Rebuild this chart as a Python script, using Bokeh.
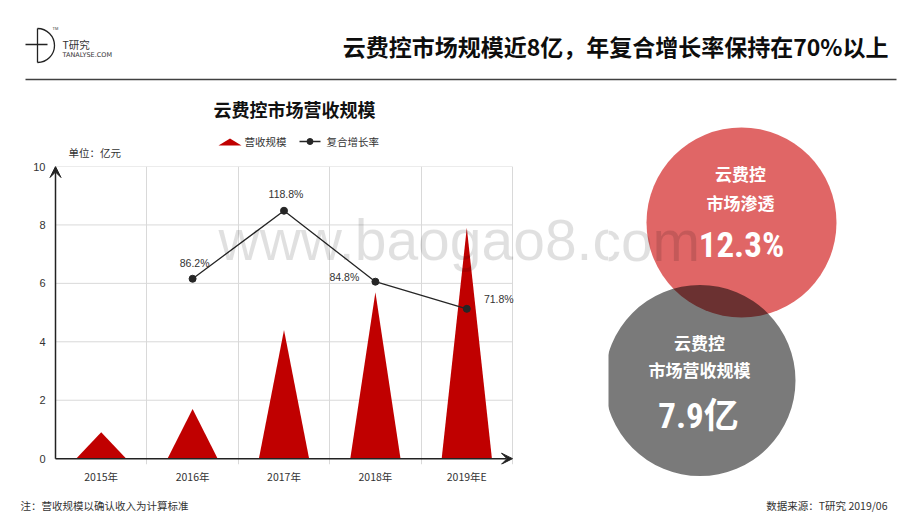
import math
from bokeh.plotting import figure
from bokeh.layouts import column, row
from bokeh.models import Range1d, FixedTicker, Arrow, VeeHead, Label
from bokeh.core.properties import value
from bokeh.embed import file_html
from bokeh.resources import INLINE

# ---------------- data ----------------
categories = ["2015年", "2016年", "2017年", "2018年", "2019年E"]
revenue = [0.9, 1.7, 4.4, 5.7, 7.9]          # 亿元
rate_years = ["2016年", "2017年", "2018年", "2019年E"]
growth_rates = [86.2, 118.8, 84.8, 71.8]     # %
y_ticks = [0, 2, 4, 6, 8, 10]
legend_labels = ["营收规模", "复合增长率"]
penetration = "12.3%"
market_size = "7.9亿"

# ---------------- styles ----------------
CJK = "Noto Sans CJK SC"
NUM = "Liberation Sans"
NARROW = "Roboto Condensed, Roboto, Noto Sans CJK SC"
RED = "#C00000"
DARK = "#262626"
TXT = "#333333"

AXIS_X = 55        # px position of the y axis
FRAME_L = 47       # chart frame left (px)
CHART_W = 608      # chart figure width
BAND = 91.4        # px per category
UNIT = 29.6        # px per 亿元


def canvas(w, h, x0=0):
    p = figure(width=w, height=h, x_range=Range1d(x0, w), y_range=Range1d(h, 0),
               output_backend="svg", toolbar_location=None,
               x_axis_type=None, y_axis_type=None, min_border=0, min_border_left=x0)
    p.outline_line_color = None
    return p


def txt(p, x, y, s, size, color=TXT, font=CJK, bold=False, align="left", alpha=1.0):
    p.text(x=[x], y=[y], text=[s], text_font=value(font), text_font_size=size,
           text_font_style="bold" if bold else "normal", text_color=color,
           text_align=align, text_baseline="middle", text_alpha=alpha)


# ---------------- header ----------------
hdr = canvas(904, 90)
hdr.line([37, 37], [28, 62], line_color="#222222", line_width=1.3)
hdr.line([25, 47], [44, 44], line_color="#222222", line_width=1.3)
hdr.arc(x=[37], y=[45], radius=17, start_angle=-math.pi / 2, end_angle=math.pi / 2,
        line_color="#222222", line_width=1.3)
txt(hdr, 52, 28, "TM", "4px", font=NUM)
txt(hdr, 62, 44, "T研究", "10.5px")
txt(hdr, 62, 54.5, "TANALYSE.COM", "6.5px", font="DejaVu Sans")
txt(hdr, 888, 45, "云费控市场规模近8亿，年复合增长率保持在70%以上", "23px",
    color="#0d0d0d", bold=True, align="right")
hdr.line([25, 896], [79, 79], line_color="#404040", line_width=1.5)

# ---------------- chart title / legend (frame aligned with chart) ----------------
leg = canvas(CHART_W, 70, x0=FRAME_L)
txt(leg, 294, 18, "云费控市场营收规模", "18px", color="#111111", bold=True, align="center")
leg.patch([218, 229.5, 241], [55, 48, 55], fill_color=RED, line_color=None)
txt(leg, 244, 51, legend_labels[0], "10.5px")
leg.line([299, 320], [51, 51], line_color=DARK, line_width=1.3)
leg.scatter([309.5], [51], size=6, color=DARK)
txt(leg, 326, 51, legend_labels[1], "10.5px")
txt(leg, 68, 62, "单位：亿元", "10.5px")

# ---------------- main chart ----------------
n = len(categories)
x_start = -0.5 - (AXIS_X - FRAME_L) / BAND
x_end = -0.5 + (CHART_W - AXIS_X) / BAND
p = figure(width=CHART_W, height=326, x_range=Range1d(x_start, x_end), y_range=Range1d(-0.2, 10),
           output_backend="svg", toolbar_location=None,
           min_border_left=FRAME_L, min_border_right=0, min_border_top=6, min_border_bottom=18)
p.outline_line_color = None
p.extra_y_ranges = {"rate": Range1d(-0.2 * 14, 140)}

p.xaxis.ticker = FixedTicker(ticks=list(range(n)))
p.xaxis.major_label_overrides = {i: c for i, c in enumerate(categories)}
p.yaxis.ticker = FixedTicker(ticks=y_ticks)
p.xgrid.ticker = FixedTicker(ticks=[i + 0.5 for i in range(n)])
p.xgrid.bounds = (0, 10)
p.ygrid.visible = False
p.grid.grid_line_color = "#d9d9d9"
p.grid.grid_line_width = 1
p.axis.axis_line_color = None
p.axis.major_tick_line_color = None
p.axis.minor_tick_line_color = None
p.axis.major_tick_out = 0
p.axis.major_label_text_color = TXT
p.yaxis.major_label_text_font = NUM
p.yaxis.major_label_text_font_size = "11px"
p.yaxis.major_label_standoff = 2
p.xaxis.major_label_text_font = CJK
p.xaxis.major_label_text_font_size = "10.5px"
p.xaxis.major_label_standoff = 4

# horizontal grid limited to the category span
gy = y_ticks[1:]
p.segment(x0=[-0.5] * len(gy), y0=gy, x1=[n - 0.5] * len(gy), y1=gy,
          line_color="#d9d9d9", line_width=1)

hw = 0.275
tri_xs = [[i - hw, i, i + hw] for i in range(n)]
tri_ys = [[0, v, 0] for v in revenue]
p.patches(tri_xs, tri_ys, fill_color=RED, line_color=None)

rx = [categories.index(c) for c in rate_years]
p.line(rx, growth_rates, y_range_name="rate", line_color=DARK, line_width=1.3)
p.scatter(rx, growth_rates, y_range_name="rate", size=7, color=DARK)
lab_dx = [2, 2, -31, 32]
lab_dy = [-16, -17, -5, -10]
p.text(x=rx, y=growth_rates, text=[f"{r}%" for r in growth_rates], y_range_name="rate",
       x_offset=lab_dx, y_offset=lab_dy, text_font=value(NUM), text_font_size="10.5px",
       text_color=TXT, text_align="center", text_baseline="middle")

head = dict(size=11, fill_color="#222222", line_color="#222222")
p.add_layout(Arrow(x_start=-0.5, y_start=0, x_end=-0.5, y_end=10, end=VeeHead(**head),
                   line_color="#222222", line_width=1.5))
p.add_layout(Arrow(x_start=-0.5, y_start=0, x_end=n - 0.5, y_end=0, end=VeeHead(**head),
                   line_color="#222222", line_width=1.5))

wm = dict(text="www.baogao8.com", text_font=NUM, text_font_size="57px",
          text_color="#000000", text_alpha=0.12, text_baseline="alphabetic")
p.add_layout(Label(x=-0.5 + (218 - AXIS_X) / BAND, y=7.5, **wm))

# ---------------- circles ----------------
cf = canvas(904 - CHART_W, 70 + 326)
cf.circle(x=[133], y=[132], radius=95, fill_color="#E06666", line_color=None)
cf.circle(x=[91.5], y=[290], radius=95.5, fill_color="#000000", fill_alpha=0.52, line_color=None)
cf.add_layout(Label(x=218 - CHART_W, y=150, **wm))
txt(cf, 132, 83, "云费控", "17px", color="white", bold=True, align="center")
txt(cf, 132, 112, "市场渗透", "17px", color="white", bold=True, align="center")
txt(cf, 133, 155, penetration, "35px", color="white", font=NARROW, bold=True, align="center")
txt(cf, 91, 252, "云费控", "17px", color="white", bold=True, align="center")
txt(cf, 91, 279, "市场营收规模", "17px", color="white", bold=True, align="center")
txt(cf, 90, 326, market_size, "35px", color="white", font=NARROW, bold=True, align="center")

# ---------------- footer ----------------
ft = canvas(904, 26)
txt(ft, 20, 19, "注：营收规模以确认收入为计算标准", "10.5px")
txt(ft, 887, 19, "数据来源：T研究 2019/06", "10.5px", align="right")

layout = column(hdr, row(column(leg, p), cf), ft)
open("out.html", "w").write(file_html(layout, INLINE))
